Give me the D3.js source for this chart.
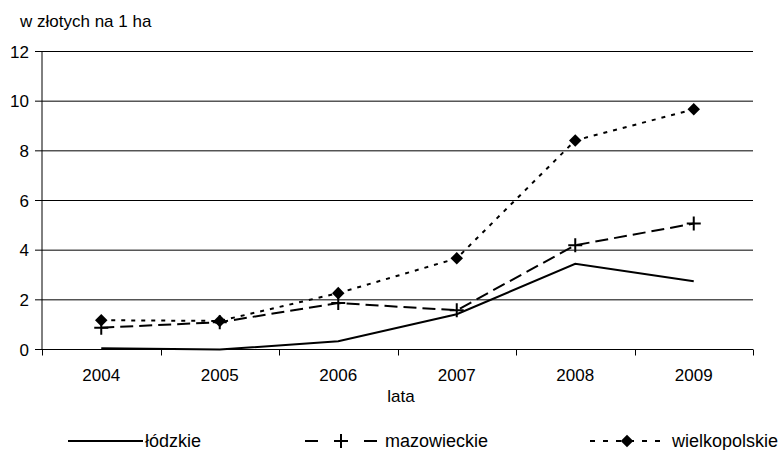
<!DOCTYPE html>
<html>
<head>
<meta charset="utf-8">
<script src="https://cdn.jsdelivr.net/npm/d3@7"></script>
<style>
  body { margin: 0; background: #fff; }
  svg { display: block; font-family: "Liberation Sans", Arial, sans-serif; }
</style>
</head>
<body>
<div class="main"></div>
<script>
const years = ["2004", "2005", "2006", "2007", "2008", "2009"]
const lodzkie = [0.05, 0.0, 0.33, 1.42, 3.45, 2.75]
const mazowieckie = [0.88, 1.1, 1.87, 1.58, 4.2, 5.07]
const wielkopolskie = [1.18, 1.15, 2.27, 3.67, 8.42, 9.67]
const yTicks = [0, 2, 4, 6, 8, 10, 12]

const series = [
  { name: "łódzkie", values: lodzkie, dash: null, marker: null },
  { name: "mazowieckie", values: mazowieckie, dash: "13,6", marker: "plus" },
  { name: "wielkopolskie", values: wielkopolskie, dash: "4,6", marker: "diamond" }
]

const W = 778, H = 450
const plotLeft = 42, plotRight = 753

const svg = d3.select(".main")
  .append("svg")
  .attr("width", W)
  .attr("height", H)

const x = d3.scaleBand()
  .domain(years)
  .range([plotLeft, plotRight])

const y = d3.scaleLinear()
  .domain([0, 12])
  .range([349.5, 51.5])

// grid lines
svg.append("g")
  .selectAll("line")
  .data(yTicks)
  .join("line")
  .attr("x1", plotLeft)
  .attr("x2", plotRight)
  .attr("y1", d => y(d))
  .attr("y2", d => y(d))
  .attr("stroke", "#000")
  .attr("stroke-width", 1)

// y axis
const yAxis = svg.append("g")
  .attr("transform", `translate(${plotLeft},0)`)
yAxis.append("line")
  .attr("y1", y(12)).attr("y2", y(0))
  .attr("stroke", "#000")
yAxis.selectAll(".tick")
  .data(yTicks)
  .join("g")
  .attr("transform", d => `translate(0,${y(d)})`)
  .call(g => g.append("line").attr("x1", -7).attr("x2", 0).attr("stroke", "#000"))
  .call(g => g.append("text")
    .attr("x", -13)
    .attr("dy", "0.36em")
    .attr("text-anchor", "end")
    .attr("font-size", 17)
    .text(d => d))

// x axis
const xAxis = svg.append("g")
  .attr("transform", `translate(0,${y(0)})`)
const bounds = years.map(d => x(d)).concat([plotRight])
xAxis.selectAll("line.tk")
  .data(bounds)
  .join("line")
  .attr("class", "tk")
  .attr("x1", d => Math.round(d) + 0.5)
  .attr("x2", d => Math.round(d) + 0.5)
  .attr("y1", 0).attr("y2", 6)
  .attr("stroke", "#000")
xAxis.selectAll("text")
  .data(years)
  .join("text")
  .attr("x", d => x(d) + x.bandwidth() / 2)
  .attr("y", 31)
  .attr("text-anchor", "middle")
  .attr("font-size", 17)
  .text(d => d)

// titles
svg.append("text")
  .attr("x", 20).attr("y", 27)
  .attr("font-size", 17)
  .text("w złotych na 1 ha")
svg.append("text")
  .attr("x", 401).attr("y", 402)
  .attr("text-anchor", "middle")
  .attr("font-size", 17)
  .text("lata")

const cx = (d, i) => x(years[i]) + x.bandwidth() / 2

const line = d3.line()
  .x(cx)
  .y(d => y(d))

const diamond = d3.symbol().type(d3.symbolDiamond2).size(100)

function drawMarker(g, type, px, py) {
  if (type === "plus") {
    g.append("path")
      .attr("d", `M${px - 7},${py}H${px + 7}M${px},${py - 7}V${py + 7}`)
      .attr("stroke", "#000")
      .attr("stroke-width", 2)
  } else if (type === "diamond") {
    g.append("path")
      .attr("transform", `translate(${px},${py})`)
      .attr("d", diamond())
      .attr("fill", "#000")
  }
}

for (const s of series) {
  const g = svg.append("g")
  g.append("path")
    .attr("d", line(s.values))
    .attr("fill", "none")
    .attr("stroke", "#000")
    .attr("stroke-width", 2)
    .attr("stroke-dasharray", s.dash)
  if (s.marker) {
    s.values.forEach((v, i) => drawMarker(g, s.marker, cx(v, i), y(v)))
  }
}

// legend
const legendItems = [
  { x: 68, len: 75, dash: null },
  { x: 305, len: 72, dash: "13,46,13" },
  { x: 590, len: 74, dash: "5,8" }
]
const legend = svg.append("g")
  .attr("transform", "translate(0,441)")
series.forEach((s, i) => {
  const it = legendItems[i]
  const g = legend.append("g").attr("transform", `translate(${it.x},0)`)
  g.append("line")
    .attr("x1", 0).attr("x2", it.len)
    .attr("stroke", "#000")
    .attr("stroke-width", 2)
    .attr("stroke-dasharray", it.dash)
  drawMarker(g, s.marker, it.len / 2, 0)
  g.append("text")
    .attr("x", it.len + (i === 0 ? 2 : 8))
    .attr("dy", "0.36em")
    .attr("font-size", 18)
    .text(s.name)
})
</script>
</body>
</html>
